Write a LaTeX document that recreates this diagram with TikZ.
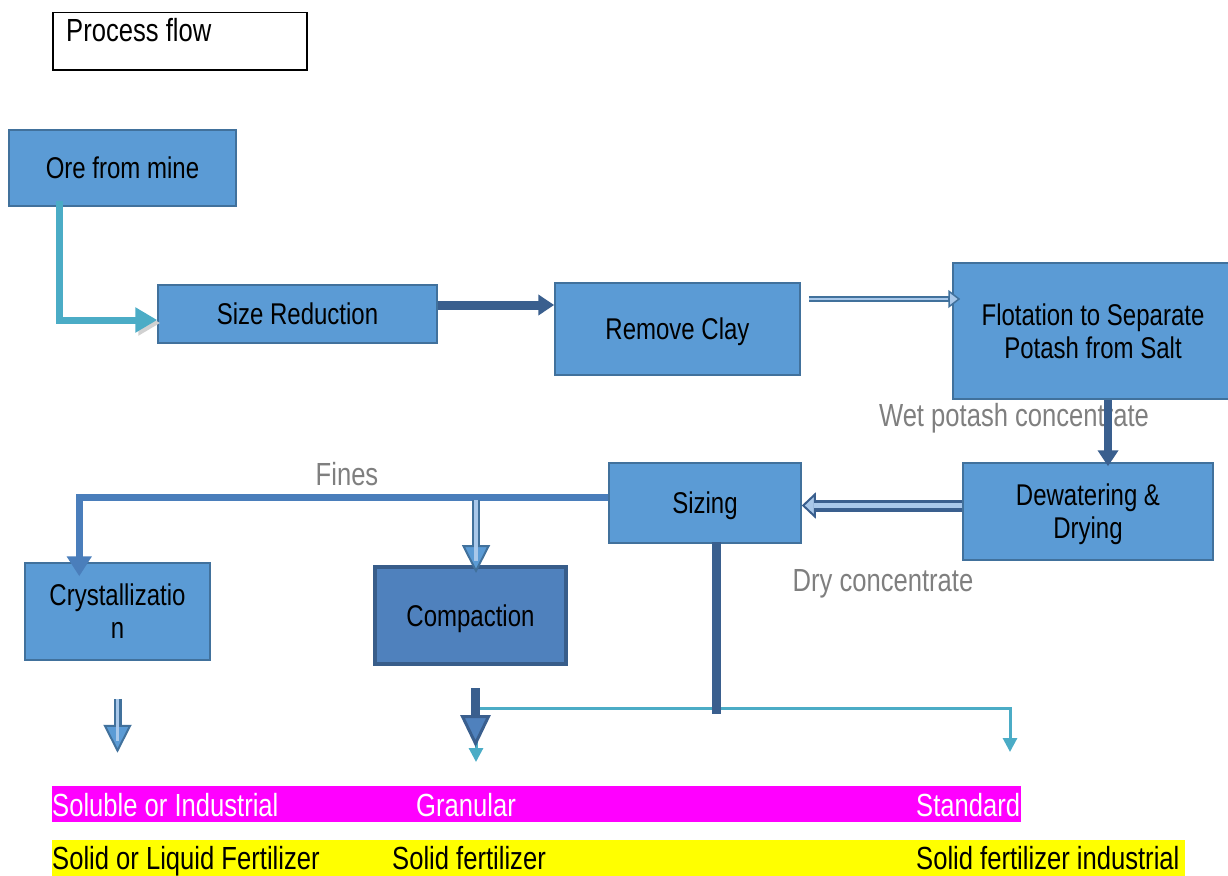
\documentclass[tikz,border=0pt]{standalone}
\usepackage{fontspec}
\setmainfont{Liberation Sans}[FakeStretch=0.8]
\usetikzlibrary{arrows.meta}
\definecolor{boxblue}{HTML}{5B9BD5}
\definecolor{boxline}{HTML}{41719C}
\definecolor{darkblue}{HTML}{3A5F8E}
\definecolor{midblue}{HTML}{4A7EBB}
\definecolor{paleblue}{HTML}{A9C8EA}
\definecolor{tealline}{HTML}{4BACC6}
\definecolor{cmpblue}{HTML}{4F81BD}
\definecolor{cmpline}{HTML}{385D8A}
\definecolor{labelgray}{HTML}{7F7F7F}
\definecolor{barmagenta}{HTML}{FF00FF}
\definecolor{baryellow}{HTML}{FFFF00}

\begin{document}
\begin{tikzpicture}[x=1pt,y=-1pt,
  stage/.style={draw=boxline,fill=boxblue,line width=1.5,inner sep=0pt,align=center,
    font=\fontsize{30}{33}\selectfont},
  flowlabel/.style={text=labelgray,inner sep=0pt,font=\fontsize{32}{36}\selectfont},
  barlabel/.style={anchor=base west,inner sep=0pt,font=\fontsize{32}{36}\selectfont},
  feedarrow/.style={draw=tealline,line width=7,-{Triangle[length=22,width=24]},
    preaction={draw=black!18,transform canvas={shift={(3pt,-3pt)}}}},
  mainarrow/.style={draw=darkblue,line width=9,-{Triangle[length=16,width=20]}},
  finesline/.style={draw=midblue,line width=7,-{Triangle[length=20,width=24]}},
  tealthin/.style={draw=tealline,line width=3},
  twinarrow/.style={line width=#1,postaction={draw=paleblue,line width=#1*0.4,-,shorten >=12}}]
\useasboundingbox (0,0) rectangle (1228,875);

\node[draw,line width=1.5,minimum width=254,minimum height=57,anchor=north west] (title box) at (52,12) {};
\node[anchor=base west,inner sep=0pt,font=\fontsize{32}{36}\selectfont] (title) at (66,42) {Process flow};

\node[stage,text depth=0pt,minimum width=227,minimum height=76] (ore) at (122.5,168) {Ore from mine};
\node[stage,text depth=0pt,minimum width=279,minimum height=58] (size) at (297.5,314) {Size Reduction};
\node[stage,text depth=0pt,minimum width=245,minimum height=92] (clay) at (677.5,329) {Remove Clay};
\node[stage,minimum width=280,minimum height=136] (flot) at (1093,331) {Flotation to Separate\\Potash from Salt};
\node[stage,minimum width=250,minimum height=97] (dew) at (1088,511.5) {Dewatering \&\\\raisebox{0pt}[\height][0pt]{Drying}};
\node[stage,text depth=0pt,minimum width=192,minimum height=80] (sizing) at (705,503) {Sizing};
\node[stage,minimum width=185,minimum height=97] (cryst) at (117.5,611.5) {Crystallizatio\\n};
\node[stage,text depth=0pt,fill=cmpblue,draw=cmpline,line width=4,minimum width=191,minimum height=97] (comp) at (470.5,615.5) {Compaction};

\node[flowlabel] (wet) at (1014,418) {Wet potash concentrate};
\node[flowlabel] (fines) at (347,474) {Fines};
\node[flowlabel] (dry) at (883,584) {Dry concentrate};

\draw[feedarrow] ([xshift=51,yshift=6]ore.south west) |- ([yshift=-6]size.west);
\draw[mainarrow] ([yshift=9]size.east) -- ([yshift=9]size.east -| clay.west);
\draw[twinarrow=6,draw=boxline,-{Triangle[length=12,width=18,fill=paleblue,line width=1.5]}]
  ([xshift=8,yshift=30]clay.east) -- ([xshift=8,yshift=30]clay.east -| flot.west);
\draw[mainarrow,line width=8] ([xshift=15]flot.south) -- ([xshift=15,yshift=-4]flot.south |- dew.north);
\draw[twinarrow=12,draw=darkblue,-{Triangle[length=14,width=26,fill=paleblue,line width=2]}]
  ([yshift=6]dew.west) -- ([yshift=6]dew.west -| sizing.east);

\coordinate (fines split) at (476,500);
\draw[finesline] ([yshift=6]sizing.west) -| ([xshift=55,yshift=-14]cryst.north west);
\draw[twinarrow=8,draw=boxline,-{Triangle[length=28,width=28,fill=boxblue,line width=2]}]
  (fines split) -- ([yshift=-8]fines split |- comp.north);

\coordinate (teal left) at (476,708);
\coordinate (granular end) at (476,762);
\coordinate (standard end) at (1010,752);
\coordinate (product split) at (716,714);
\draw[tealthin,{Triangle[length=14,width=14]}-{Triangle[length=14,width=14]}]
  (granular end) -- (teal left) -| (standard end);
\draw[draw=darkblue,line width=9] ([xshift=11,yshift=2]sizing.south) -- (product split);
\draw[mainarrow,-{Triangle[length=32,width=30,fill=cmpblue,line width=3]}]
  ([xshift=5,yshift=-22]comp.south) -- ([xshift=5,yshift=-81]comp.south);
\draw[twinarrow=8,draw=boxline,-{Triangle[length=28,width=28,fill=boxblue,line width=2]}]
  ([yshift=-38]cryst.south) -- ([yshift=-92]cryst.south);

\node[fill=barmagenta,minimum width=969,minimum height=36,inner sep=0pt,anchor=north west] (top bar) at (52,786) {};
\node[barlabel,text=white] (soluble) at (52,816) {Soluble or Industrial};
\node[barlabel,text=white] (granular) at (416,816) {Granular};
\node[barlabel,text=white] (standard) at (916,816) {Standard};
\node[fill=baryellow,minimum width=1133,minimum height=36,inner sep=0pt,anchor=north west] (low bar) at (52,840) {};
\node[barlabel] (liquid) at (52,869) {Solid or Liquid Fertilizer};
\node[barlabel] (solid) at (392,869) {Solid fertilizer};
\node[barlabel] (industrial) at (916,869) {Solid fertilizer industrial};
\end{tikzpicture}
\end{document}
